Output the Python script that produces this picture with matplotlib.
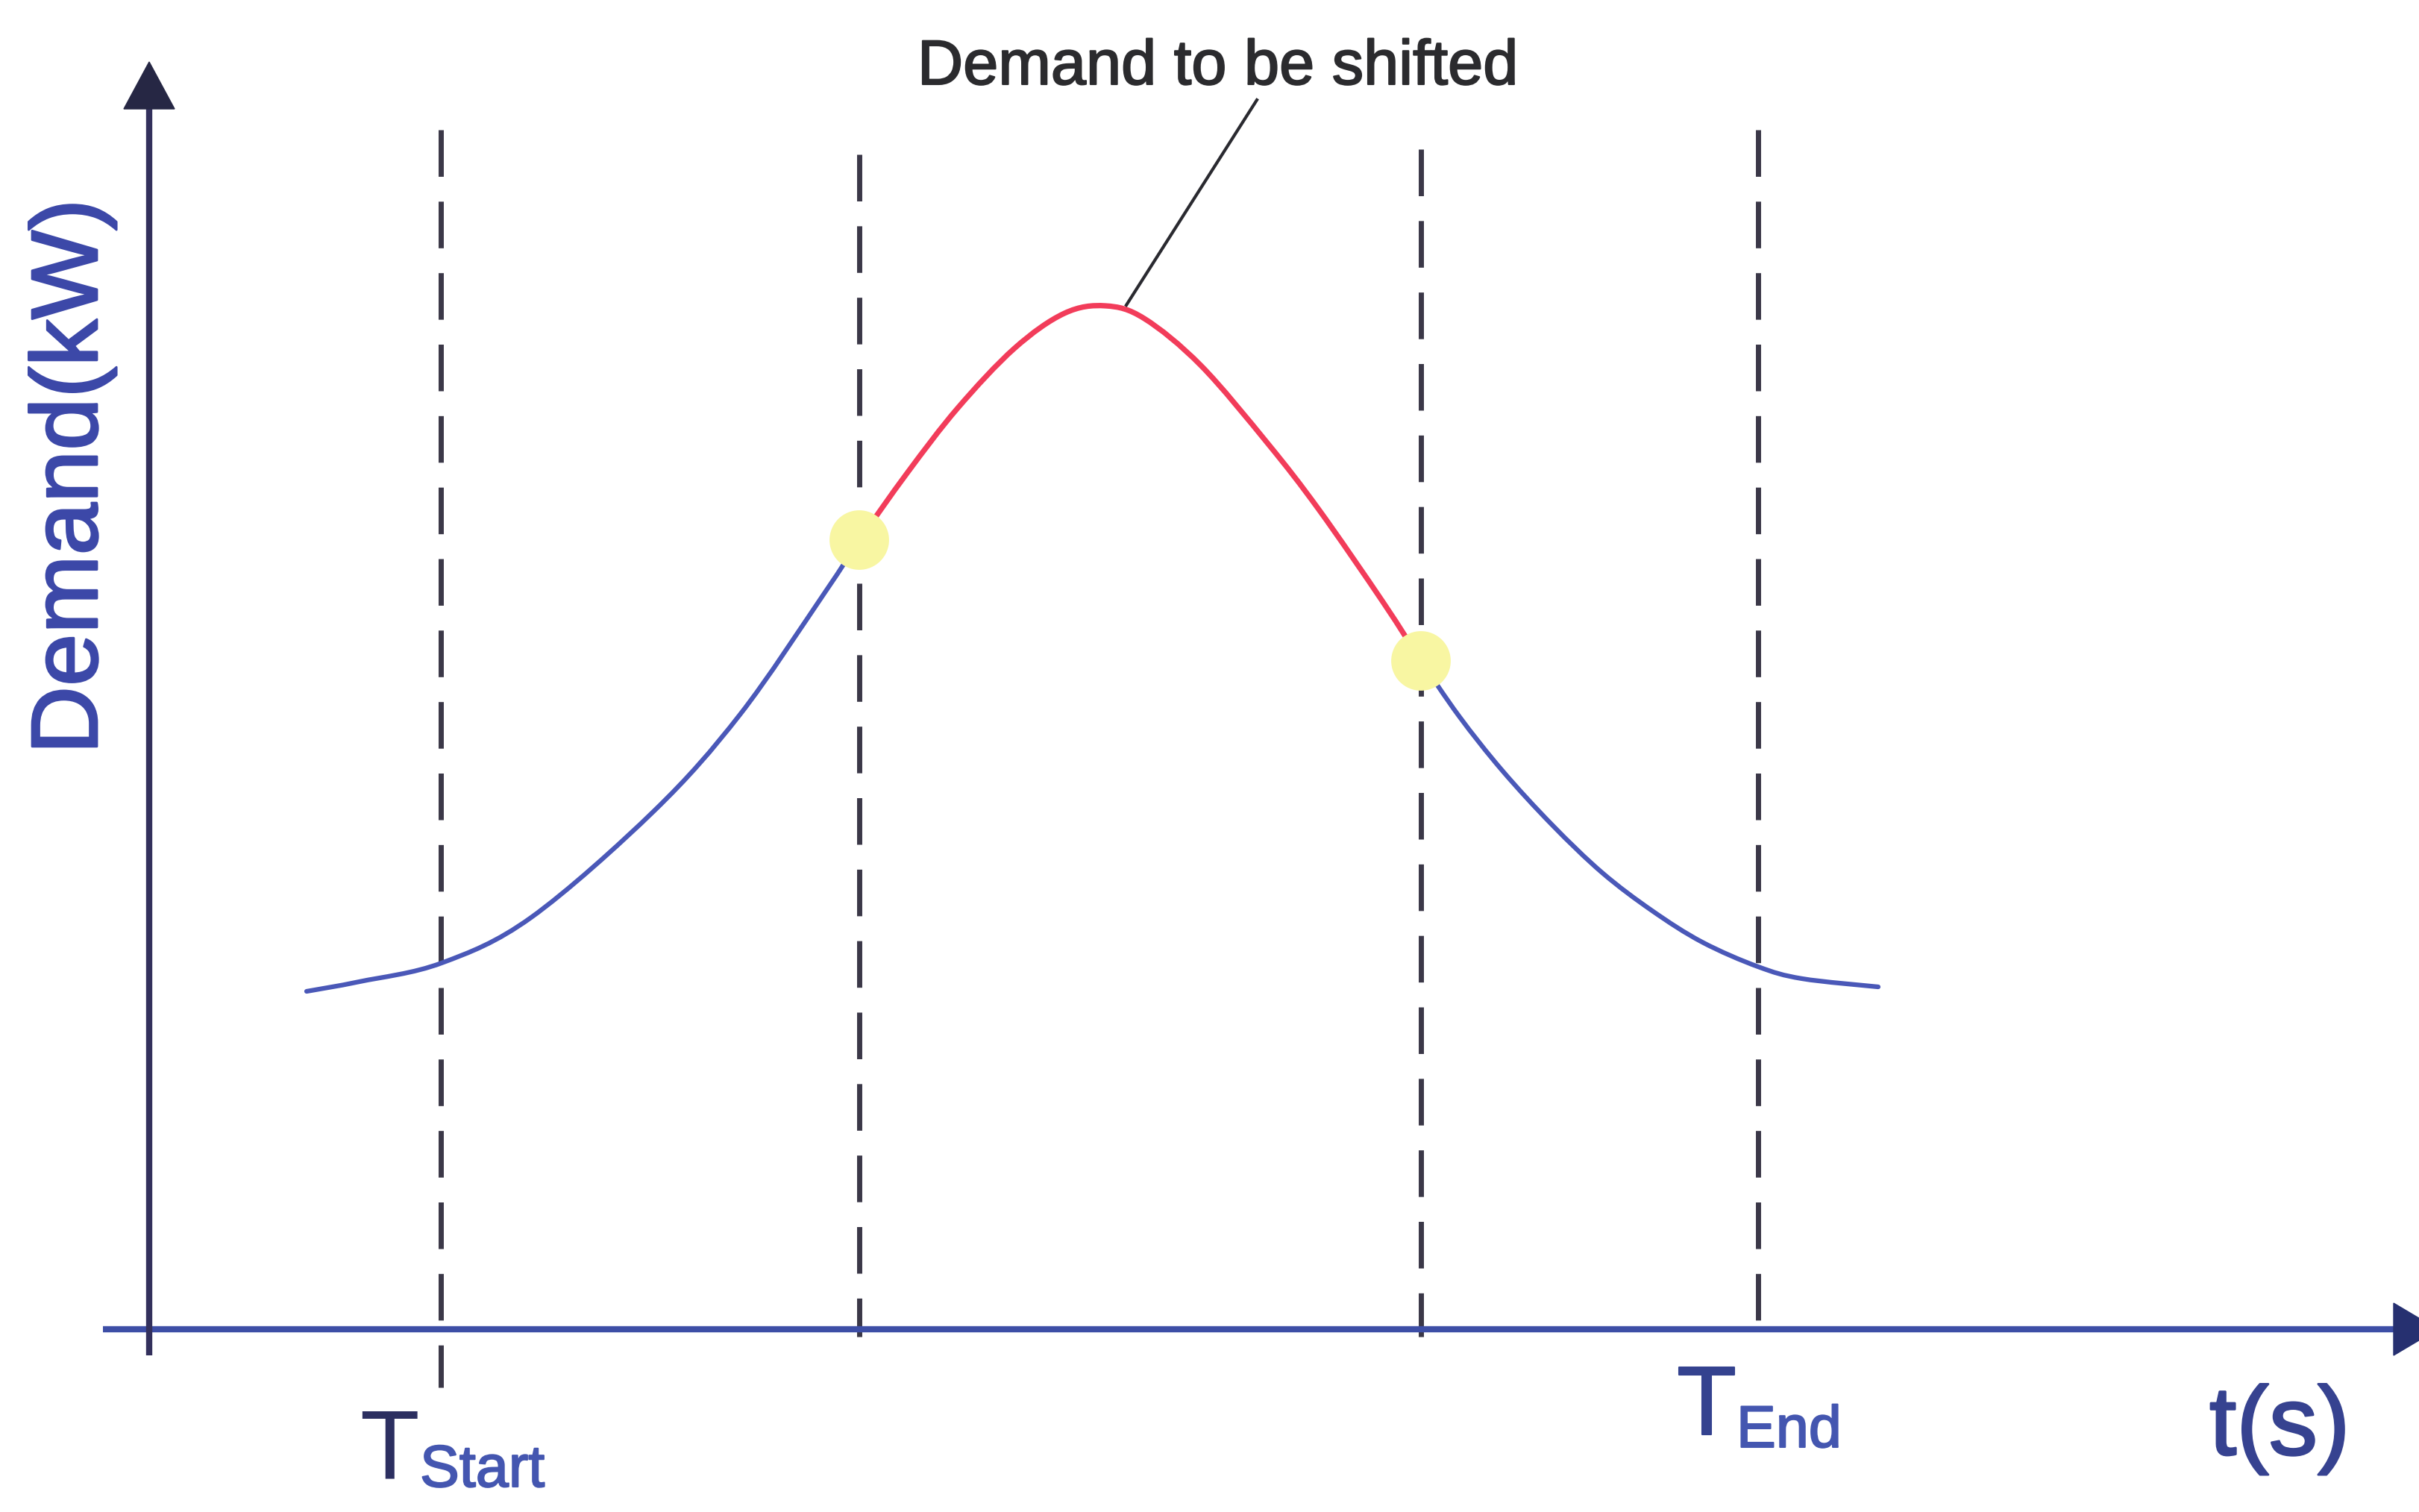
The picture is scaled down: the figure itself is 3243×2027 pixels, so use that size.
import matplotlib
matplotlib.use("Agg")
import matplotlib.pyplot as plt
import matplotlib.patheffects as pe
from matplotlib.path import Path
from matplotlib.patches import PathPatch

plt.rcParams['font.family'] = ['Liberation Sans', 'DejaVu Sans']
plt.rcParams['lines.scale_dashes'] = False

# demand curve (t in arbitrary time units, demand in arbitrary kW units)
t_left = [21.1, 28.2, 39.2, 51.2, 67.7, 79.2, 90.4, 95.2]
d_left = [45.3, 46.6, 49.1, 55.2, 69.5, 82.4, 98.5, 105.8]

t_shift = [95.2, 101.7, 108.4, 116.0, 122.7, 128.2, 133.4, 141.0, 150.0, 156.8, 165.4, 170.5]
d_shift = [105.8, 114.9, 123.5, 131.5, 136.2, 137.2, 135.5, 129.2, 118.7, 109.9, 97.5, 89.6]

t_right = [170.5, 175.6, 181.4, 188.1, 194.8, 201.5, 208.2, 215.7, 221.6, 231.8]
d_right = [89.6, 82.2, 74.9, 67.6, 61.2, 56.1, 51.9, 48.6, 47.0, 45.9]

# vertical markers
t_marks = [39.1, 95.2, 170.5, 215.7]
mark_top = [160.8, 157.5, 158.2, 160.8]
mark_bottom = [-7.8, -1.0, -1.0, -0.5]

# points where shifting starts / ends
t_pts = [95.2, 170.5]
d_pts = [105.8, 89.6]


def smooth_path(xs, ys):
    # catmull-rom style bezier through the read points
    pts = list(zip(xs, ys))
    ext = [pts[0]] + pts + [pts[-1]]
    verts = [pts[0]]
    codes = [Path.MOVETO]
    for i in range(1, len(ext) - 2):
        p0, p1, p2, p3 = ext[i - 1], ext[i], ext[i + 1], ext[i + 2]
        c1 = (p1[0] + (p2[0] - p0[0]) / 6, p1[1] + (p2[1] - p0[1]) / 6)
        c2 = (p2[0] - (p3[0] - p1[0]) / 6, p2[1] - (p3[1] - p1[1]) / 6)
        verts += [c1, c2, p2]
        codes += [Path.CURVE4] * 3
    return Path(verts, codes)


fig = plt.figure(figsize=(32.43, 20.27), dpi=100)
ax = fig.add_axes([0, 0, 1, 1])
ax.set_xlim(-20, 304.3)
ax.set_ylim(-24.5, 178.2)
ax.axis('off')

# dashed verticals
for x, y0, y1 in zip(t_marks, mark_bottom, mark_top):
    ax.plot([x, x], [y1, y0], color='#3b3848', lw=5, dashes=(45, 24), zorder=2)

# axes
ax.plot([-6.2, 301.5], [0, 0], color='#3d4ea6', lw=6, solid_capstyle='butt', zorder=3)
ax.fill([300.9, 300.9, 306.8], [3.5, -3.5, 0], color='#263070', zorder=3)
ax.plot([0, 0], [-3.5, 164], color='#33305c', lw=6, solid_capstyle='butt', zorder=3)
ax.fill([-3.4, 3.4, 0], [163.6, 163.6, 169.9], color='#262744', zorder=3)

# curve
for xs, ys, col, w in [(t_left, d_left, '#4a58b8', 4.5),
                       (t_right, d_right, '#4a58b8', 4.5),
                       (t_shift, d_shift, '#f23c5a', 5.2)]:
    ax.add_patch(PathPatch(smooth_path(xs, ys), facecolor='none', edgecolor=col,
                           lw=w, capstyle='round', zorder=4))
ax.scatter(t_pts, d_pts, s=3300, color='#f8f6a2', edgecolors='none', zorder=5)

# annotation
ax.plot([148.5, 131.0], [164.8, 137.3], color='#2a2a30', lw=3, zorder=4)
ax.text(103.0, 166.9, 'Demand to be shifted', fontsize=61, color='#2b2b2e',
        ha='left', va='baseline',
        path_effects=[pe.withStroke(linewidth=1.5, foreground='#2b2b2e')])

# labels
ax.text(28.2, -20.1, 'T', fontsize=94, color='#2c2f60', ha='left', va='baseline')
ax.text(36.3, -21.1, 'Start', fontsize=57, color='#4456b0', ha='left', va='baseline',
        path_effects=[pe.withStroke(linewidth=1.5, foreground='#4456b0')])
ax.text(204.8, -14.1, 'T', fontsize=94, color='#34428f', ha='left', va='baseline',
        path_effects=[pe.withStroke(linewidth=1.5, foreground='#34428f')])
ax.text(212.8, -15.8, 'End', fontsize=57, color='#4456b0', ha='left', va='baseline',
        path_effects=[pe.withStroke(linewidth=1.5, foreground='#4456b0')])
ax.text(276.2, -16.8, 't(s)', fontsize=94, color='#364290', ha='left', va='baseline',
        path_effects=[pe.withStroke(linewidth=2, foreground='#364290')])
ax.text(-10.3, 114.3, 'Demand(kW)', fontsize=91, color='#3c48a8', rotation=90,
        ha='center', va='center',
        path_effects=[pe.withStroke(linewidth=2, foreground='#3c48a8')])

fig.savefig('out.png', dpi=100)
